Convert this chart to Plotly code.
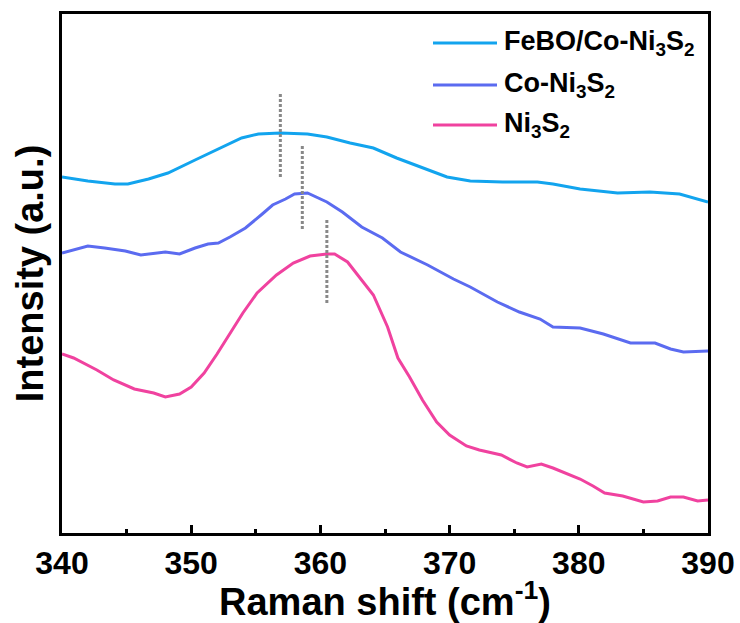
import plotly.graph_objects as go

# Raman spectra (Raman shift in cm^-1, intensity in arbitrary units, offset for clarity)
shift_febo = [340.0, 342.0, 344.1, 345.1, 346.7, 348.2, 350.3, 352.4, 353.9, 355.2,
              356.9, 359.0, 360.5, 362.3, 364.1, 365.9, 368.3, 369.8, 371.6, 374.1,
              376.8, 378.0, 380.1, 383.0, 385.5, 387.8, 390.0]
int_febo = [356, 352, 349, 349, 354, 360, 373, 386, 395, 399,
            400, 399, 396, 390, 385, 375, 363, 356, 352, 351,
            351, 349, 344, 340, 341, 339, 331]

shift_co = [340.0, 342.0, 343.3, 344.9, 346.1, 348.0, 349.1, 350.3, 351.3, 352.1,
            353.0, 354.2, 355.5, 356.3, 357.3, 358.0, 359.0, 360.5, 361.7, 363.2,
            364.8, 366.2, 368.3, 370.3, 371.6, 373.7, 375.4, 377.0, 378.0, 380.1,
            381.9, 384.0, 385.9, 387.1, 388.1, 390.0]
int_co = [280, 287, 285, 282, 278, 281, 279, 285, 289, 290,
          296, 305, 319, 328, 334, 339, 340, 331, 321, 306,
          295, 281, 268, 254, 246, 231, 221, 214, 206, 205,
          199, 190, 190, 184, 181, 182]

shift_ni = [340.0, 340.9, 342.7, 344.0, 345.6, 347.1, 348.0, 349.1, 350.0, 351.0,
            352.0, 353.0, 354.0, 355.1, 356.6, 357.9, 359.2, 360.5, 361.1, 362.1,
            363.0, 364.1, 365.2, 366.0, 366.9, 367.9, 369.0, 370.0, 371.3, 372.3,
            374.0, 375.2, 376.0, 377.1, 378.0, 379.1, 380.1, 381.1, 382.0, 383.4,
            385.0, 386.1, 387.1, 388.1, 389.2, 390.0]
int_ni = [179, 175, 163, 153, 144, 140, 136, 139, 146, 160,
          179, 199, 220, 240, 258, 270, 277, 279, 279, 271,
          256, 238, 206, 175, 156, 133, 111, 98, 87, 83,
          78, 70, 66, 69, 65, 59, 54, 47, 40, 37,
          31, 32, 36, 36, 32, 33]

names = ["FeBO/Co-Ni<sub>3</sub>S<sub>2</sub>", "Co-Ni<sub>3</sub>S<sub>2</sub>",
         "Ni<sub>3</sub>S<sub>2</sub>"]
colors = ["#12A4EE", "#5B6BF0", "#F0429F"]

# peak position markers (x, lower intensity, upper intensity)
peak_pos = [356.9, 358.6, 360.5]
peak_low = [356, 304, 230]
peak_high = [440, 389, 315]

x_ticks = [340, 350, 360, 370, 380, 390]

fig = go.Figure()
for xs, ys, c in zip([shift_febo, shift_co, shift_ni], [int_febo, int_co, int_ni], colors):
    fig.add_trace(go.Scatter(x=xs, y=ys, mode="lines",
                             line=dict(color=c, width=3), showlegend=False))

for p, lo, hi in zip(peak_pos, peak_low, peak_high):
    fig.add_trace(go.Scatter(x=[p, p], y=[lo, hi], mode="lines",
                             line=dict(color="#888888", width=3, dash="3px,2px"),
                             showlegend=False))

# legend drawn in paper coordinates: sample line + label per series
leg_rows = [43, 85, 125]          # px from top
W, H = 740, 623
L, R, T, B = 62, 32, 14, 90
pw, ph = W - L - R, H - T - B
for row, name, c in zip(leg_rows, names, colors):
    yp = 1 - (row - T) / ph
    x0 = (433 - L) / pw
    x1 = (497 - L) / pw
    fig.add_shape(type="line", xref="paper", yref="paper", x0=x0, x1=x1, y0=yp, y1=yp,
                  line=dict(color=c, width=3))
    fig.add_annotation(xref="paper", yref="paper", x=(502 - L) / pw, y=yp,
                       xanchor="left", yanchor="middle", text="<b>" + name + "</b>",
                       showarrow=False, font=dict(size=27, color="black"))

font_fam = "Liberation Sans, Arial, sans-serif"
fig.update_layout(
    width=W, height=H,
    margin=dict(l=L, r=R, t=T, b=B, autoexpand=False),
    paper_bgcolor="white", plot_bgcolor="white",
    font=dict(family=font_fam, color="black"),
    xaxis=dict(range=[340, 390], tickvals=x_ticks, ticktext=[f"<b>{v}</b>" for v in x_ticks],
               ticks="inside", ticklen=8, tickwidth=3, tickcolor="black",
               minor=dict(ticks="inside", ticklen=4, tickwidth=3, dtick=5, tickcolor="black"),
               tickfont=dict(size=32), showgrid=False, zeroline=False, automargin=False,
               showline=True, linecolor="black", linewidth=3, mirror=True,
               title=dict(text="<b>Raman shift (cm<sup>-1</sup>)</b>", font=dict(size=38),
                          standoff=2)),
    yaxis=dict(range=[0, 519], showticklabels=False, ticks="", showgrid=False,
               zeroline=False, showline=True, linecolor="black", linewidth=3, mirror=True,
               automargin=False,
               title=dict(text="<b>Intensity (a.u.)</b>", font=dict(size=38), standoff=4)),
)

fig.write_html("out.html")
